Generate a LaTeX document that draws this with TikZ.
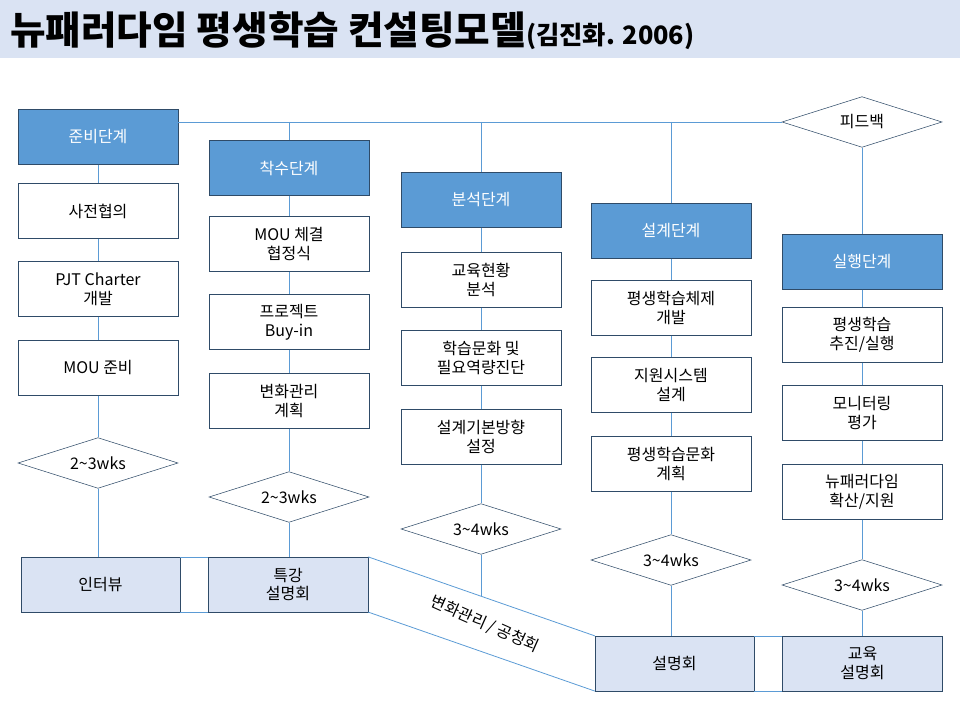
\documentclass[tikz,border=0pt]{standalone}
\usepackage{fontspec}
\setmainfont{Noto Sans CJK KR}
\usetikzlibrary{shapes.geometric}
\definecolor{hdr}{HTML}{5B9BD5}
\definecolor{lite}{HTML}{DAE3F3}
\definecolor{bord}{HTML}{2F4B68}
\definecolor{conn}{HTML}{5B9BD5}
\tikzset{
 x=0.75pt,y=-0.75pt,
 hbox/.style={draw=bord,fill=hdr,text=white,minimum width=120pt,minimum height=41pt,font=\fontsize{12}{14}\selectfont,align=center,inner sep=0pt},
 wbox/.style={draw=bord,fill=white,minimum width=120pt,minimum height=41pt,font=\fontsize{12}{14}\selectfont,align=center,inner sep=0pt},
 lbox/.style={draw=bord,fill=lite,minimum width=120pt,minimum height=41pt,font=\fontsize{12}{14}\selectfont,align=center,inner sep=0pt},
 dia/.style={draw=bord,fill=white,diamond,aspect=3.2,minimum width=120pt,minimum height=38pt,inner sep=0pt,font=\fontsize{12}{14}\selectfont},
 ln/.style={draw=conn,line width=0.6pt},
}
\begin{document}
\begin{tikzpicture}
\useasboundingbox (0,0) rectangle (960,720);
\fill[lite] (0,0) rectangle (960,58);
\node[anchor=west,inner sep=0pt] (title) at (10,31) {\fontsize{29}{32}\selectfont\bfseries 뉴패러다임 평생학습 컨설팅모델\fontsize{19}{20}\selectfont(김진화. 2006)};
% headers
\node[hbox] (h1) at (98,137) {준비단계};
\node[hbox] (h2) at (289,168) {착수단계};
\node[hbox] (h3) at (481,200) {분석단계};
\node[hbox] (h4) at (671,231) {설계단계};
\node[hbox] (h5) at (862,262) {실행단계};
\node[dia] (fb) at (862,122) {피드백};
% sub boxes
\node[wbox] (a1) at (98,211) {사전협의};
\node[wbox] (a2) at (98,289) {PJT Charter\\개발};
\node[wbox] (a3) at (98,368) {MOU 준비};
\node[wbox] (b1) at (289,244) {MOU 체결\\협정식};
\node[wbox] (b2) at (289,322) {프로젝트\\Buy-in};
\node[wbox] (b3) at (289,401) {변화관리\\계획};
\node[wbox] (c1) at (481,280) {교육현황\\분석};
\node[wbox] (c2) at (481,358) {학습문화 및\\필요역량진단};
\node[wbox] (c3) at (481,437) {설계기본방향\\설정};
\node[wbox] (d1) at (671,308) {평생학습체제\\개발};
\node[wbox] (d2) at (671,385) {지원시스템\\설계};
\node[wbox] (d3) at (671,464) {평생학습문화\\계획};
\node[wbox] (e1) at (862,335) {평생학습\\추진/실행};
\node[wbox] (e2) at (862,413) {모니터링\\평가};
\node[wbox] (e3) at (862,492) {뉴패러다임\\확산/지원};
% diamonds
\node[dia] (w1) at (98,463) {2\textasciitilde3wks};
\node[dia] (w2) at (289,497) {2\textasciitilde3wks};
\node[dia] (w3) at (481,529) {3\textasciitilde4wks};
\node[dia] (w4) at (671,560) {3\textasciitilde4wks};
\node[dia] (w5) at (862,585) {3\textasciitilde4wks};
% bottom
\node[lbox,minimum width=119pt] (i1) at (100.5,584.5) {인터뷰};
\node[lbox] (i2) at (288,584.5) {특강\\설명회};
\node[lbox,minimum width=119pt] (j1) at (674.5,663.5) {설명회};
\node[lbox] (j2) at (862.5,663.5) {교육\\설명회};
\coordinate (top2) at (289,122);
\coordinate (top3) at (481,122);
\coordinate (top4) at (671,122);
\coordinate (d3x) at (481,596);
\draw[ln] (h1.east |- 0,122) -- (fb.west);
\draw[ln] (top2) -- (h2.north);
\draw[ln] (top3) -- (h3.north);
\draw[ln] (top4) -- (h4.north);
\draw[ln] (fb.south) -- (h5.north);
\draw[ln] (h1) -- (a1) (a1) -- (a2) (a2) -- (a3) (a3) -- (w1) (w1.south) -- (w1.south |- i1.north);
\draw[ln] (h2) -- (b1) (b1) -- (b2) (b2) -- (b3) (b3) -- (w2) (w2.south) -- (w2.south |- i2.north);
\draw[ln] (h3) -- (c1) (c1) -- (c2) (c2) -- (c3) (c3) -- (w3) (w3.south) -- (d3x);
\draw[ln] (h4) -- (d1) (d1) -- (d2) (d2) -- (d3) (d3) -- (w4) (w4.south) -- (w4.south |- j1.north);
\draw[ln] (h5) -- (e1) (e1) -- (e2) (e2) -- (e3) (e3) -- (w5) (w5.south) -- (w5.south |- j2.north);
\draw[ln] (i1.north east) -- (i2.north west) (i1.south east) -- (i2.south west);
\draw[ln] (j1.north east) -- (j2.north west) (j1.south east) -- (j2.south west);
\draw[ln] (i2.north east) -- (j1.north west) (i2.south east) -- (j1.south west);
\node[rotate=-24,font=\fontsize{12}{14}\selectfont] (lab) at (485,624) {변화관리 / 공청회};
\end{tikzpicture}
\end{document}
